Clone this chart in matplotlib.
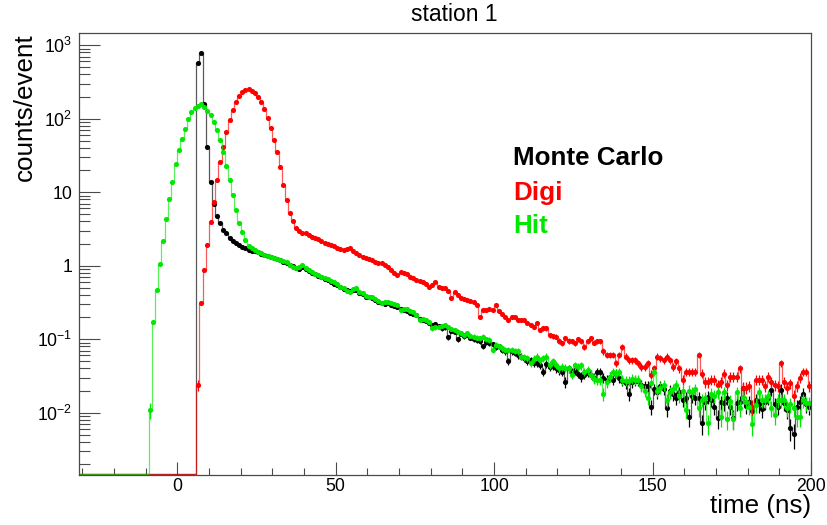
import numpy as np
import matplotlib
matplotlib.use("Agg")
import matplotlib.pyplot as plt
from matplotlib.ticker import FixedLocator, FixedFormatter, NullFormatter, MultipleLocator

plt.rcParams['font.family'] = ['Liberation Sans', 'DejaVu Sans']
plt.rcParams['mathtext.fontset'] = 'custom'
plt.rcParams['mathtext.rm'] = 'Liberation Sans'
plt.rcParams['mathtext.it'] = 'Liberation Sans:italic'
plt.rcParams['mathtext.bf'] = 'Liberation Sans:bold'

# ---------------- data (1 ns bins) ----------------
x_low, x_high = -31, 200

# Monte Carlo: first filled bin starts at 6 ns
mc_start = 6
mc_values = [
    568, 777, 158, 41,
    13.8, 7.0, 4.7, 3.85, 3.1, 2.75, 2.4, 2.19, 2.05, 1.9,
    1.78, 1.72, 1.64, 1.60, 1.56, 1.52, 1.46, 1.40, 1.35, 1.30,
    1.27, 1.22, 1.18, 1.13, 1.08, 1.02, 0.98, 0.93, 0.90, 0.95,
    0.90, 0.84, 0.80, 0.76, 0.72, 0.70, 0.66, 0.63, 0.60, 0.57,
    0.55, 0.51, 0.48, 0.46, 0.45, 0.46, 0.47, 0.43, 0.41, 0.38,
    0.37, 0.36, 0.34, 0.32, 0.31, 0.30, 0.31, 0.29, 0.28, 0.27,
    0.26, 0.25, 0.24, 0.23, 0.22, 0.21, 0.19, 0.18, 0.175, 0.165,
    0.155, 0.16, 0.15, 0.14, 0.145, 0.106, 0.13, 0.125, 0.10, 0.118,
    0.11, 0.115, 0.105, 0.10, 0.097, 0.095, 0.08, 0.092, 0.088, 0.085,
    0.078, 0.08, 0.071, 0.068, 0.05, 0.068, 0.065, 0.06, 0.058, 0.055,
    0.05, 0.052, 0.048, 0.047, 0.045, 0.036, 0.046, 0.042, 0.044, 0.04,
    0.038, 0.036, 0.026, 0.04, 0.036, 0.038, 0.034, 0.031, 0.033, 0.035,
    0.033, 0.030, 0.036, 0.036, 0.03, 0.028, 0.031, 0.028, 0.034, 0.030,
    0.027, 0.025, 0.018, 0.026, 0.027, 0.027, 0.024, 0.023, 0.023, 0.012,
    0.021, 0.019, 0.023, 0.021, 0.0115, 0.02, 0.018, 0.016, 0.019, 0.015,
    0.016, 0.0088, 0.017, 0.016, 0.016, 0.0072, 0.014, 0.0163, 0.015, 0.012,
    0.0084, 0.014, 0.0134, 0.016, 0.012, 0.0084, 0.0134, 0.014, 0.0216, 0.0124,
    0.014, 0.0104, 0.015, 0.013, 0.0111, 0.014, 0.016, 0.0205, 0.013, 0.012,
    0.0205, 0.0137, 0.011, 0.0061, 0.0051, 0.012, 0.014, 0.018, 0.013, 0.012,
]

# Digi: first filled bin starts at 6 ns
digi_start = 6
digi_values = [
    0.024, 0.31, 0.86, 1.9,
    3.9, 7.4, 14.7, 26, 41.5, 66, 96, 132, 171, 206,
    230, 246, 251, 239, 221, 199, 171, 136, 101, 74,
    51, 35.5, 22.3, 12.5, 7.8, 5.2, 4.0, 3.3, 3.0, 2.8,
    2.75, 2.6, 2.48, 2.4, 2.28, 2.19, 2.02, 1.95, 1.91, 1.85,
    1.76, 1.70, 1.64, 1.68, 1.72, 1.58, 1.47, 1.40, 1.33, 1.26,
    1.24, 1.20, 1.12, 1.08, 1.08, 1.02, 0.97, 0.87, 0.80, 0.75,
    0.83, 0.79, 0.76, 0.71, 0.68, 0.64, 0.62, 0.60, 0.56, 0.52,
    0.55, 0.60, 0.52, 0.50, 0.49, 0.45, 0.36, 0.44, 0.40, 0.36,
    0.35, 0.34, 0.33, 0.32, 0.29, 0.20, 0.25, 0.25, 0.255, 0.25,
    0.29, 0.24, 0.22, 0.20, 0.18, 0.20, 0.20, 0.18, 0.18, 0.18,
    0.165, 0.156, 0.148, 0.165, 0.133, 0.14, 0.14, 0.114, 0.11, 0.108,
    0.095, 0.088, 0.103, 0.095, 0.093, 0.088, 0.10, 0.093, 0.079, 0.093,
    0.103, 0.09, 0.093, 0.093, 0.068, 0.061, 0.061, 0.061, 0.047, 0.061,
    0.079, 0.058, 0.052, 0.052, 0.052, 0.047, 0.042, 0.042, 0.047, 0.033,
    0.04, 0.058, 0.055, 0.052, 0.058, 0.052, 0.042, 0.05, 0.04, 0.028,
    0.036, 0.036, 0.036, 0.036, 0.061, 0.034, 0.026, 0.026, 0.028, 0.028,
    0.024, 0.026, 0.034, 0.024, 0.031, 0.031, 0.031, 0.04, 0.022, 0.022,
    0.023, 0.012, 0.028, 0.028, 0.028, 0.023, 0.031, 0.026, 0.024, 0.023,
    0.047, 0.026, 0.022, 0.025, 0.017, 0.023, 0.03, 0.036, 0.036, 0.023,
]

# Hit: first filled bin starts at -9 ns
hit_start = -9
hit_values = [
    0.011, 0.17, 0.47, 1.07, 2.17, 4.3, 8.0, 13.9, 24,
    37, 53, 72, 98, 124, 141, 150, 157, 143, 127,
    112, 91, 70, 51, 35.5, 22.7, 14.7, 9.2, 5.7, 3.8,
    2.9, 2.24, 1.85, 1.74, 1.64, 1.55, 1.47, 1.40, 1.36, 1.33,
    1.28, 1.24, 1.20, 1.16, 1.12, 1.03, 0.95, 0.92, 0.97, 1.01,
    0.93, 0.87, 0.81, 0.78, 0.75, 0.70, 0.67, 0.65, 0.62, 0.60,
    0.56, 0.52, 0.49, 0.45, 0.44, 0.48, 0.49, 0.44, 0.42, 0.39,
    0.38, 0.38, 0.35, 0.33, 0.31, 0.32, 0.32, 0.31, 0.30, 0.29,
    0.25, 0.26, 0.26, 0.245, 0.235, 0.21, 0.18, 0.19, 0.18, 0.17,
    0.14, 0.145, 0.148, 0.152, 0.156, 0.148, 0.138, 0.133, 0.127, 0.12,
    0.114, 0.12, 0.112, 0.108, 0.105, 0.103, 0.108, 0.10, 0.098, 0.071,
    0.083, 0.08, 0.075, 0.072, 0.071, 0.071, 0.069, 0.068, 0.058, 0.057,
    0.055, 0.047, 0.054, 0.058, 0.052, 0.055, 0.058, 0.045, 0.05, 0.045,
    0.04, 0.042, 0.041, 0.04, 0.033, 0.044, 0.042, 0.044, 0.036, 0.038,
    0.033, 0.029, 0.028, 0.028, 0.018, 0.026, 0.031, 0.036, 0.034, 0.036,
    0.028, 0.027, 0.027, 0.029, 0.028, 0.028, 0.023, 0.020, 0.016, 0.025,
    0.036, 0.020, 0.022, 0.024, 0.015, 0.019, 0.021, 0.024, 0.017, 0.020,
    0.011, 0.020, 0.019, 0.021, 0.0115, 0.015, 0.016, 0.0072, 0.018, 0.017,
    0.019, 0.0088, 0.019, 0.0082, 0.0142, 0.0081, 0.019, 0.0115, 0.0164, 0.014,
    0.0121, 0.007, 0.0127, 0.019, 0.0149, 0.0149, 0.017, 0.0115, 0.0094, 0.0149,
    0.0149, 0.0149, 0.0115, 0.013, 0.0115, 0.0088, 0.0088, 0.0149, 0.0134, 0.0134,
]

series_names = ["Monte Carlo", "Digi", "Hit"]
x_ticks = [0, 50, 100, 150, 200]
x_ticklabels = ["0", "50", "100", "150", "200"]
y_ticks = [1e-2, 1e-1, 1, 10, 100, 1000]
y_ticklabels = [r"$\mathregular{10^{-2}}$", r"$\mathregular{10^{-1}}$", "1", "10",
                r"$\mathregular{10^{2}}$", r"$\mathregular{10^{3}}$"]

# ---------------- styling ----------------
W, H = 827, 525
y_min, y_max = 0.00142, 1450
events_norm = 1500.0  # Poisson error scale
frame_col = "#4a4a4a"
col_black = "#000000"
col_red = "#ff0000"
col_green = "#00e800"

fig = plt.figure(figsize=(W / 100, H / 100), dpi=100)
L, R, T, B = 79, 811, 33.3, 475
ax = fig.add_axes([L / W, 1 - B / H, (R - L) / W, (B - T) / H])
ax.set_yscale("log")
ax.set_xlim(x_low, x_high)
ax.set_ylim(y_min, y_max)

edges = np.arange(x_low, x_high + 1, 1.0)
nb = len(edges) - 1


def draw(start, values, color, z):
    full = np.zeros(nb)
    i0 = int(start - x_low)
    vals = np.asarray(values, float)[: nb - i0]
    full[i0:i0 + len(vals)] = vals
    floor = y_min * 1.025
    ax.stairs(np.where(full > 0, full, floor), edges, color=color, lw=0.9,
              alpha=0.65, zorder=z, baseline=None)
    centers = start + 0.5 + np.arange(len(vals))
    err = np.sqrt(vals / events_norm)
    lo = np.minimum(err, vals * 0.6)
    ax.errorbar(centers, vals, yerr=[lo, err], fmt="o", ms=3.7, mfc=color,
                mec=color, mew=0, ecolor=color, elinewidth=0.9, capsize=0,
                alpha=1.0, zorder=z + 0.1)


draw(mc_start, mc_values, col_black, 3)
draw(digi_start, digi_values, col_red, 4)
draw(hit_start, hit_values, col_green, 5)

# axes cosmetics (ROOT-like)
for s in ax.spines.values():
    s.set_color(frame_col)
    s.set_linewidth(0.9)
    s.set_zorder(10)

ax.xaxis.set_major_locator(FixedLocator(x_ticks))
ax.xaxis.set_major_formatter(FixedFormatter(x_ticklabels))
ax.xaxis.set_minor_locator(MultipleLocator(10))
ax.yaxis.set_major_locator(FixedLocator(y_ticks))
ax.yaxis.set_major_formatter(FixedFormatter(y_ticklabels))
minor_y = [m * 10.0 ** e for e in range(-3, 4) for m in range(2, 10)]
ax.yaxis.set_minor_locator(FixedLocator(minor_y))
ax.yaxis.set_minor_formatter(NullFormatter())

ax.tick_params(axis="x", which="major", direction="in", length=9.4, width=0.8,
               color=frame_col, labelsize=12.7, pad=2.5, top=False)
ax.tick_params(axis="x", which="minor", direction="in", length=4.7, width=0.8,
               color=frame_col, top=False)
ax.tick_params(axis="y", which="major", direction="in", length=15, width=0.8,
               color=frame_col, labelsize=12.7, pad=5, right=False)
ax.tick_params(axis="y", which="minor", direction="in", length=7.9, width=0.8,
               color=frame_col, right=False)

# titles
fig.text(454 / W, 1 - 21 / H, "station 1", ha="center", va="baseline", fontsize=16.5)
fig.text(32 / W, 1 - 33 / H, "counts/event", rotation=90, rotation_mode="anchor",
         ha="right", va="baseline", fontsize=18.7)
fig.text(811 / W, 1 - 513 / H, "time (ns)", ha="right", va="baseline", fontsize=18.7)

# legend-like labels
for name, col, yb in zip(series_names, [col_black, col_red, col_green], [165, 200, 233]):
    fig.text(513 / W, 1 - yb / H, name, color=col, ha="left", va="baseline",
             fontsize=18.7, fontweight="bold")

fig.savefig("out.png", dpi=100)
